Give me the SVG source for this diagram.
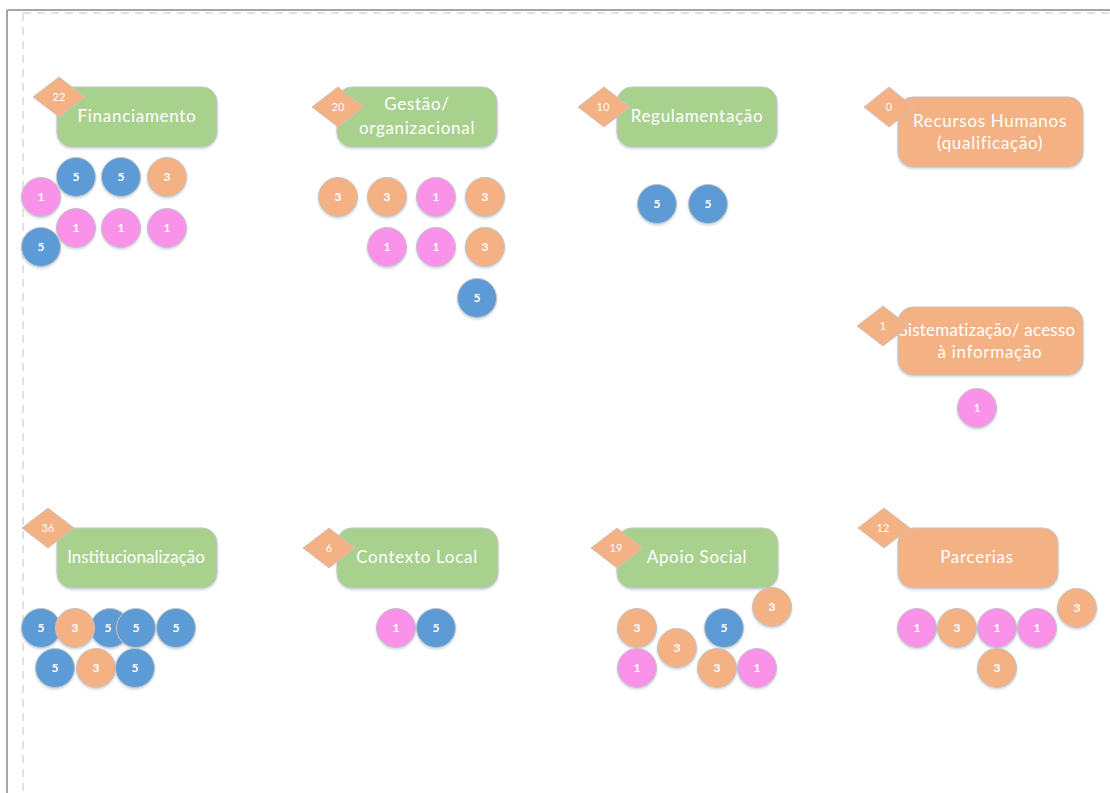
<svg xmlns="http://www.w3.org/2000/svg" width="1110" height="793" viewBox="0 0 1110 793">
<defs>
<filter id="sh" x="-20%" y="-20%" width="140%" height="150%">
<feDropShadow dx="0" dy="1.5" stdDeviation="1.2" flood-color="#8aa4c0" flood-opacity="0.45"/>
</filter>
<style>
.box{stroke:#c4c4c4;stroke-width:1;filter:url(#sh)}
.g{fill:#A9D18E}
.o{fill:#F4B183}
.b{fill:#5B9BD5}
.p{fill:#FA92EA}
.dm{fill:#F4B183;stroke:#c6c6c6;stroke-width:1}
.c{stroke:#c4c4c4;stroke-width:1;filter:url(#sh)}
.lbl{font-family:Lato,"Open Sans","Noto Sans",sans-serif;font-size:17px;letter-spacing:0.7px;fill:#ffffff;text-anchor:middle}
.dn{font-family:Lato,"Open Sans","Noto Sans",sans-serif;font-size:11px;fill:#ffffff;text-anchor:middle}
.cn{font-family:Lato,"Open Sans","Noto Sans",sans-serif;font-size:12px;fill:#ffffff;text-anchor:middle;font-weight:bold}
</style>
</defs>
<rect width="1110" height="793" fill="#ffffff"/>
<g id="frame">
<line x1="7" y1="10" x2="1110" y2="10" stroke="#a6a6a6" stroke-width="2"/>
<line x1="7" y1="10" x2="7" y2="793" stroke="#a6a6a6" stroke-width="2"/>
<line x1="23" y1="13" x2="1110" y2="13" stroke="#e2e2e2" stroke-width="2" stroke-dasharray="8,6"/>
<line x1="23" y1="13" x2="23" y2="793" stroke="#e2e2e2" stroke-width="2" stroke-dasharray="8,6"/>
</g>
<g id="connectors"/>

<g id="financiamento">
<rect class="box g" x="57" y="87" width="160" height="60" rx="15"/>
<text class="lbl" x="137" y="122">Financiamento</text>
<polygon class="dm" points="33,97 59,77 85,97 59,117"/>
<text class="dn" x="59" y="101">22</text>
<g id="fin-c1"><circle class="c b" cx="76" cy="177" r="19.5"/><text class="cn" x="76" y="181">5</text></g>
<g id="fin-c2"><circle class="c b" cx="121" cy="177" r="19.5"/><text class="cn" x="121" y="181">5</text></g>
<g id="fin-c3"><circle class="c o" cx="167" cy="177" r="19.5"/><text class="cn" x="167" y="181">3</text></g>
<g id="fin-c4"><circle class="c p" cx="41" cy="197" r="19.5"/><text class="cn" x="41" y="201">1</text></g>
<g id="fin-c5"><circle class="c p" cx="76" cy="228" r="19.5"/><text class="cn" x="76" y="232">1</text></g>
<g id="fin-c6"><circle class="c p" cx="121" cy="228" r="19.5"/><text class="cn" x="121" y="232">1</text></g>
<g id="fin-c7"><circle class="c p" cx="167" cy="228" r="19.5"/><text class="cn" x="167" y="232">1</text></g>
<g id="fin-c8"><circle class="c b" cx="41" cy="247" r="19.5"/><text class="cn" x="41" y="251">5</text></g>
</g>

<g id="gestao">
<rect class="box g" x="337" y="87" width="160" height="60" rx="15"/>
<text class="lbl" x="417" y="110">Gestão/</text>
<text class="lbl" x="417" y="134">organizacional</text>
<polygon class="dm" points="312,107 338,87 364,107 338,127"/>
<text class="dn" x="338" y="111">20</text>
<g id="ges-c1"><circle class="c o" cx="338" cy="197" r="19.5"/><text class="cn" x="338" y="201">3</text></g>
<g id="ges-c2"><circle class="c o" cx="387" cy="197" r="19.5"/><text class="cn" x="387" y="201">3</text></g>
<g id="ges-c3"><circle class="c p" cx="436" cy="197" r="19.5"/><text class="cn" x="436" y="201">1</text></g>
<g id="ges-c4"><circle class="c o" cx="485" cy="197" r="19.5"/><text class="cn" x="485" y="201">3</text></g>
<g id="ges-c5"><circle class="c p" cx="387" cy="247" r="19.5"/><text class="cn" x="387" y="251">1</text></g>
<g id="ges-c6"><circle class="c p" cx="436" cy="247" r="19.5"/><text class="cn" x="436" y="251">1</text></g>
<g id="ges-c7"><circle class="c o" cx="485" cy="247" r="19.5"/><text class="cn" x="485" y="251">3</text></g>
<g id="ges-c8"><circle class="c b" cx="477" cy="298" r="19.5"/><text class="cn" x="477" y="302">5</text></g>
</g>

<g id="regulamentacao">
<rect class="box g" x="617" y="87" width="160" height="60" rx="15"/>
<text class="lbl" x="697" y="122">Regulamentação</text>
<polygon class="dm" points="578,107 604,87 630,107 604,127"/>
<text class="dn" x="603" y="111">10</text>
<g id="reg-c1"><circle class="c b" cx="657" cy="204" r="19.5"/><text class="cn" x="657" y="208">5</text></g>
<g id="reg-c2"><circle class="c b" cx="708" cy="204" r="19.5"/><text class="cn" x="708" y="208">5</text></g>
</g>

<g id="recursos-humanos">
<rect class="box o" x="898" y="97" width="185" height="70" rx="15"/>
<text class="lbl" x="990" y="127">Recursos Humanos</text>
<text class="lbl" x="990" y="149">(qualificação)</text>
<polygon class="dm" points="864,107 889,87 914,107 889,127"/>
<text class="dn" x="889" y="111">0</text>
</g>

<g id="sistematizacao">
<rect class="box o" x="898" y="307" width="185" height="68" rx="15"/>
<text class="lbl" x="987" y="336" style="letter-spacing:0.2px">Sistematização/ acesso</text>
<text class="lbl" x="990" y="358">à informação</text>
<polygon class="dm" points="857,326 883,306 909,326 883,346"/>
<text class="dn" x="883" y="330">1</text>
<g id="sis-c1"><circle class="c p" cx="977" cy="408" r="19.5"/><text class="cn" x="977" y="412">1</text></g>
</g>

<g id="institucionalizacao">
<rect class="box g" x="57" y="528" width="160" height="60" rx="15"/>
<text class="lbl" x="136" y="563" style="letter-spacing:0px">Institucionalização</text>
<polygon class="dm" points="22,528 48,508 74,528 48,548"/>
<text class="dn" x="48" y="532">36</text>
<g id="ins-c1"><circle class="c b" cx="41" cy="628" r="19.5"/><text class="cn" x="41" y="632">5</text></g>
<g id="ins-c3"><circle class="c b" cx="110" cy="628" r="19.5"/><text class="cn" x="108" y="632">5</text></g>
<g id="ins-c2"><circle class="c o" cx="75" cy="628" r="19.5"/><text class="cn" x="75" y="632">3</text></g>
<g id="ins-c4"><circle class="c b" cx="136" cy="628" r="19.5"/><text class="cn" x="136" y="632">5</text></g>
<g id="ins-c5"><circle class="c b" cx="176" cy="628" r="19.5"/><text class="cn" x="176" y="632">5</text></g>
<g id="ins-c6"><circle class="c b" cx="55" cy="668" r="19.5"/><text class="cn" x="55" y="672">5</text></g>
<g id="ins-c7"><circle class="c o" cx="96" cy="668" r="19.5"/><text class="cn" x="96" y="672">3</text></g>
<g id="ins-c8"><circle class="c b" cx="135" cy="668" r="19.5"/><text class="cn" x="135" y="672">5</text></g>
</g>

<g id="contexto-local">
<rect class="box g" x="337" y="528" width="161" height="60" rx="15"/>
<text class="lbl" x="417" y="563">Contexto Local</text>
<polygon class="dm" points="303,548 329,528 355,548 329,568"/>
<text class="dn" x="329" y="552">6</text>
<g id="ctx-c1"><circle class="c p" cx="396" cy="628" r="19.5"/><text class="cn" x="396" y="632">1</text></g>
<g id="ctx-c2"><circle class="c b" cx="436" cy="628" r="19.5"/><text class="cn" x="436" y="632">5</text></g>
</g>

<g id="apoio-social">
<rect class="box g" x="617" y="528" width="161" height="60" rx="15"/>
<text class="lbl" x="697" y="563">Apoio Social</text>
<polygon class="dm" points="591,548 617,528 643,548 617,568"/>
<text class="dn" x="616" y="552">19</text>
<g id="apo-c1"><circle class="c o" cx="772" cy="607" r="19.5"/><text class="cn" x="772" y="611">3</text></g>
<g id="apo-c2"><circle class="c o" cx="637" cy="628" r="19.5"/><text class="cn" x="637" y="632">3</text></g>
<g id="apo-c3"><circle class="c b" cx="724" cy="628" r="19.5"/><text class="cn" x="724" y="632">5</text></g>
<g id="apo-c4"><circle class="c o" cx="677" cy="648" r="19.5"/><text class="cn" x="677" y="652">3</text></g>
<g id="apo-c5"><circle class="c p" cx="637" cy="668" r="19.5"/><text class="cn" x="637" y="672">1</text></g>
<g id="apo-c6"><circle class="c o" cx="717" cy="668" r="19.5"/><text class="cn" x="717" y="672">3</text></g>
<g id="apo-c7"><circle class="c p" cx="757" cy="668" r="19.5"/><text class="cn" x="757" y="672">1</text></g>
</g>

<g id="parcerias">
<rect class="box o" x="898" y="528" width="160" height="60" rx="15"/>
<text class="lbl" x="977" y="563">Parcerias</text>
<polygon class="dm" points="858,528 884,508 910,528 884,548"/>
<text class="dn" x="883" y="532">12</text>
<g id="par-c1"><circle class="c o" cx="1077" cy="608" r="19.5"/><text class="cn" x="1077" y="612">3</text></g>
<g id="par-c2"><circle class="c p" cx="917" cy="628" r="19.5"/><text class="cn" x="917" y="632">1</text></g>
<g id="par-c3"><circle class="c o" cx="957" cy="628" r="19.5"/><text class="cn" x="957" y="632">3</text></g>
<g id="par-c4"><circle class="c p" cx="997" cy="628" r="19.5"/><text class="cn" x="997" y="632">1</text></g>
<g id="par-c5"><circle class="c p" cx="1037" cy="628" r="19.5"/><text class="cn" x="1037" y="632">1</text></g>
<g id="par-c6"><circle class="c o" cx="997" cy="668" r="19.5"/><text class="cn" x="997" y="672">3</text></g>
</g>
</svg>
